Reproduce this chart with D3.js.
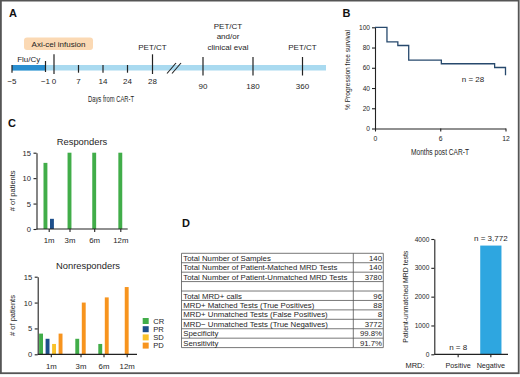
<!DOCTYPE html>
<html>
<head>
<style>
  body { margin: 0; background: #fff; }
  svg { display: block; font-family: "Liberation Sans", Arial, Helvetica, sans-serif; }
  .axis path, .axis line { stroke: #222; stroke-width: 1.1; }
  .axis text { fill: #1e1e1e; }
  .panel-label { font-weight: bold; font-size: 11px; fill: #111; }
</style>
</head>
<body>
<script src="https://d3js.org/d3.v7.min.js"></script>
<script>
// ---- A: timeline
const dayTicks = ['-5', '-1', '0', '7', '14', '24', '28', '90', '180', '360'];
const dayTickLabels = ['\u22125', '\u22121', '0', '7', '14', '24', '28', '90', '180', '360'];
const lateDays = ['90', '180', '360'];
const eventDays = ['28', '90', '360'];
const eventLabels = [['PET/CT'], ['PET/CT', 'and/or', 'clinical eval'], ['PET/CT']];

// ---- B: PFS
const kmMonths = [0, 1.1, 2.1, 3.1, 6.1, 11, 12];
const kmPFS = [100, 85.5, 82, 67.5, 64, 60.3, 52.5];
const pfsTicks = [0, 20, 40, 60, 80, 100];
const monthTicks = [0, 6, 12];

// ---- C: response by time point
const timepoints = ['1m', '3m', '6m', '12m'];
const responseTypes = ['CR', 'PR', 'SD', 'PD'];
const responseColors = ['#41ad49', '#1d4f8b', '#f9c22b', '#f7941e'];
const respCR = [13, 15, 15, 15];
const respPR = [2, 0, 0, 0];
const respSD = [0, 0, 0, 0];
const respPD = [0, 0, 0, 0];
const nonrCR = [4, 3, 2, 0];
const nonrPR = [3, 0, 0, 0];
const nonrSD = [2, 0, 0, 0];
const nonrPD = [4, 10, 11, 13];
const patientTicks = [0, 5, 10, 15];

// ---- D: table + unmatched tests
const tableLabels = [
  'Total Number of Samples',
  'Total Number of Patient-Matched MRD Tests',
  'Total Number of Patient-Unmatched MRD Tests',
  '',
  'Total MRD+ calls',
  'MRD+ Matched Tests (True Positives)',
  'MRD+ Unmatched Tests (False Positives)',
  'MRD\u2212 Unmatched Tests (True Negatives)',
  'Specificity',
  'Sensitivity'
];
const tableValues = ['140', '140', '3780', '', '96', '88', '8', '3772', '99.8%', '91.7%'];
const mrdGroups = ['Positive', 'Negative'];
const mrdCounts = [8, 3772];
const mrdNotes = ['n = 8', 'n = 3,772'];
const mrdTicks = [0, 1000, 2000, 3000, 4000];

const svg = d3.select('body').append('svg')
  .attr('width', 520)
  .attr('height', 377);

svg.append('rect').attr('width', 520).attr('height', 377).attr('fill', '#fff');
svg.append('rect')
  .attr('x', 0.9).attr('y', 0.6)
  .attr('width', 517.8).attr('height', 372.6)
  .attr('fill', 'none')
  .attr('stroke', '#555')
  .attr('stroke-width', 1.8);

// condensed titles: squeeze regular glyphs to the measured width
function narrowText(sel, width) {
  sel.attr('textLength', width).attr('lengthAdjust', 'spacingAndGlyphs');
}

// ================= A =================
const gA = svg.append('g');
gA.append('text').attr('class', 'panel-label').attr('x', 9).attr('y', 17).text('A');

const dayX = d3.scaleOrdinal()
  .domain(dayTicks)
  .range([12, 45.5, 54, 78.5, 103, 127.5, 152.5, 203, 253, 302.5]);

gA.append('rect')
  .attr('x', dayX('-5')).attr('y', 65)
  .attr('width', 326 - dayX('-5')).attr('height', 5.5)
  .attr('fill', '#a9daf0');
gA.append('rect')
  .attr('x', dayX('-5')).attr('y', 65)
  .attr('width', dayX('-1') - dayX('-5')).attr('height', 5.5)
  .attr('fill', '#2a8fd0');

// break marks
[0, 5].forEach(dx => {
  gA.append('line')
    .attr('x1', 167 + dx).attr('y1', 73.5)
    .attr('x2', 176 + dx).attr('y2', 63)
    .attr('stroke', '#222').attr('stroke-width', 1.1);
});

function tickSpan(d) {
  if (d === '0' || d === '28') return [54.3, 74];
  if (lateDays.includes(d)) return [57, 75.5];
  if (d === '-1') return [61, 72];
  return [65, 72.7];
}

gA.selectAll('.day-tick')
  .data(dayTicks)
  .join('line')
  .attr('class', 'day-tick')
  .attr('x1', d => dayX(d)).attr('x2', d => dayX(d))
  .attr('y1', d => tickSpan(d)[0]).attr('y2', d => tickSpan(d)[1])
  .attr('stroke', '#222').attr('stroke-width', 1.2);

gA.selectAll('.day-label')
  .data(dayTicks)
  .join('text')
  .attr('class', 'day-label')
  .attr('x', d => dayX(d))
  .attr('y', d => lateDays.includes(d) ? 89 : 84)
  .attr('text-anchor', 'middle')
  .attr('font-size', 8)
  .attr('fill', '#1e1e1e')
  .text((d, i) => dayTickLabels[i]);

gA.append('text')
  .attr('x', 111).attr('y', 102)
  .attr('text-anchor', 'middle')
  .attr('font-size', 8.5)
  .attr('fill', '#1e1e1e')
  .text('Days from CAR-T')
  .call(narrowText, 46);

gA.append('text')
  .attr('x', (dayX('-5') + dayX('-1')) / 2).attr('y', 61.5)
  .attr('text-anchor', 'middle')
  .attr('font-size', 8)
  .attr('fill', '#1e1e1e')
  .text('Flu/Cy');

gA.append('rect')
  .attr('x', 24).attr('y', 37.5)
  .attr('width', 69).attr('height', 12.5)
  .attr('rx', 3)
  .attr('fill', '#fbd9b4');
gA.append('text')
  .attr('x', 58.5).attr('y', 47)
  .attr('text-anchor', 'middle')
  .attr('font-size', 8)
  .attr('fill', '#1e1e1e')
  .text('Axi-cel infusion');

eventDays.forEach((d, i) => {
  const lines = eventLabels[i];
  gA.append('text')
    .attr('text-anchor', 'middle')
    .attr('font-size', 8)
    .attr('fill', '#1e1e1e')
    .selectAll('tspan')
    .data(lines)
    .join('tspan')
    .attr('x', dayX(d) + (lines.length > 1 ? 25 : 0))
    .attr('y', (t, j) => 49.7 - (lines.length - 1 - j) * 10.5)
    .text(t => t);
});

// ================= B =================
const gB = svg.append('g');
gB.append('text').attr('class', 'panel-label').attr('x', 342.5).attr('y', 17).text('B');

const xB = d3.scaleLinear().domain([0, 12]).range([375, 505.5]);
const yB = d3.scaleLinear().domain([0, 100]).range([128.5, 27.3]);

gB.append('g')
  .attr('class', 'axis')
  .attr('transform', `translate(0,${yB(0)})`)
  .call(d3.axisBottom(xB).tickValues(monthTicks).tickSize(3).tickSizeOuter(0).tickPadding(4.5))
  .call(g => g.selectAll('text').attr('font-size', 6.8));

gB.append('g')
  .attr('class', 'axis')
  .attr('transform', `translate(${xB(0)},0)`)
  .call(d3.axisLeft(yB).tickValues(pfsTicks).tickSize(3).tickSizeOuter(0).tickPadding(2))
  .call(g => g.selectAll('text').attr('font-size', 6.6));

const kmLine = d3.line()
  .x((d, i) => xB(kmMonths[i]))
  .y(d => yB(d))
  .curve(d3.curveStepAfter);

gB.append('path')
  .attr('d', kmLine(kmPFS))
  .attr('fill', 'none')
  .attr('stroke', '#27496d')
  .attr('stroke-width', 1.3);

gB.append('text')
  .attr('x', 473).attr('y', 81.8)
  .attr('text-anchor', 'middle')
  .attr('font-size', 8)
  .attr('fill', '#1e1e1e')
  .text('n = 28');

gB.append('text')
  .attr('x', 440).attr('y', 155)
  .attr('text-anchor', 'middle')
  .attr('font-size', 8.5)
  .attr('fill', '#1e1e1e')
  .text('Months post CAR-T')
  .call(narrowText, 58);

gB.append('text')
  .attr('transform', 'translate(349.5,70) rotate(-90)')
  .attr('text-anchor', 'middle')
  .attr('font-size', 7.5)
  .attr('fill', '#1e1e1e')
  .text('% Progression free survival')
  .call(narrowText, 80);

// ================= C =================
const gC = svg.append('g');
gC.append('text').attr('class', 'panel-label').attr('x', 8).attr('y', 127).text('C');

const colorC = d3.scaleOrdinal().domain(responseTypes).range(responseColors);

function drawResponse(opts) {
  const { title, series, centers, y0, y1, xLeft, xRight, titleX, titleY, labelPad } = opts;
  const g = gC.append('g');
  const x = d3.scaleOrdinal().domain(timepoints).range(centers);
  const y = d3.scaleLinear().domain([0, 15]).range([y0, y1]);
  const slot = 6.5;
  const barW = 3.9;

  const bars = [];
  timepoints.forEach((t, i) => {
    const present = responseTypes.filter((r, k) => series[k][i] > 0);
    present.forEach((r, j) => {
      const k = responseTypes.indexOf(r);
      bars.push({ t, r, v: series[k][i], off: (j - (present.length - 1) / 2) * slot });
    });
  });

  g.selectAll('rect')
    .data(bars)
    .join('rect')
    .attr('x', d => x(d.t) + d.off - barW / 2)
    .attr('y', d => y(d.v))
    .attr('width', barW)
    .attr('height', d => y(0) - y(d.v))
    .attr('fill', d => colorC(d.r));

  g.append('g')
    .attr('class', 'axis')
    .attr('transform', `translate(${xLeft},0)`)
    .call(d3.axisLeft(y).tickValues(patientTicks).tickSize(3).tickSizeOuter(0).tickPadding(2.5))
    .call(a => a.selectAll('text').attr('font-size', 7.6));

  g.append('g')
    .attr('class', 'axis')
    .attr('transform', `translate(0,${y0})`)
    .call(d3.axisBottom(x).tickSize(3).tickSizeOuter(0).tickPadding(labelPad))
    .call(a => a.select('.domain').remove())
    .call(a => a.selectAll('text').attr('font-size', 7.8));

  g.append('line')
    .attr('x1', xLeft).attr('x2', xRight)
    .attr('y1', y0).attr('y2', y0)
    .attr('stroke', '#222').attr('stroke-width', 1.2);

  g.append('text')
    .attr('x', titleX).attr('y', titleY)
    .attr('text-anchor', 'middle')
    .attr('font-size', 9.4)
    .attr('fill', '#1e1e1e')
    .text(title);

  g.append('text')
    .attr('transform', `translate(15,${(y0 + y1) / 2}) rotate(-90)`)
    .attr('text-anchor', 'middle')
    .attr('font-size', 7.5)
    .attr('fill', '#1e1e1e')
    .text('# of patients');
}

drawResponse({
  title: 'Responders',
  series: [respCR, respPR, respSD, respPD],
  centers: [48.7, 69.5, 94.2, 120.3],
  y0: 229, y1: 152.7, xLeft: 36.5, xRight: 127.7,
  titleX: 82, titleY: 145, labelPad: 5
});

drawResponse({
  title: 'Nonresponders',
  series: [nonrCR, nonrPR, nonrSD, nonrPD],
  centers: [50.8, 80.5, 103.5, 126.7],
  y0: 354.3, y1: 276.7, xLeft: 37.7, xRight: 137,
  titleX: 88, titleY: 269.3, labelPad: 6
});

const legend = gC.append('g').attr('transform', 'translate(142.7,321)');
legend.selectAll('rect')
  .data(responseTypes)
  .join('rect')
  .attr('x', 0)
  .attr('y', (d, i) => i * 8.2 - 3)
  .attr('width', 6).attr('height', 6)
  .attr('fill', d => colorC(d));
legend.selectAll('text')
  .data(responseTypes)
  .join('text')
  .attr('x', 10.5)
  .attr('y', (d, i) => i * 8.2 + 2.8)
  .attr('font-size', 7.6)
  .attr('fill', '#1e1e1e')
  .text(d => d);

// ================= D =================
const gD = svg.append('g');
gD.append('text').attr('class', 'panel-label').attr('x', 182).attr('y', 227).text('D');

const rowY = d3.scaleBand().domain(d3.range(tableLabels.length)).range([253.3, 347.6]);
const tLeft = 181.5, tDiv = 353.3, tRight = 383.3;

gD.selectAll('.row-line')
  .data(d3.range(tableLabels.length + 1))
  .join('line')
  .attr('class', 'row-line')
  .attr('x1', tLeft).attr('x2', tRight)
  .attr('y1', i => i < tableLabels.length ? rowY(i) : rowY(i - 1) + rowY.bandwidth())
  .attr('y2', i => i < tableLabels.length ? rowY(i) : rowY(i - 1) + rowY.bandwidth())
  .attr('stroke', '#555').attr('stroke-width', 0.8);

[tLeft, tDiv, tRight].forEach(xv => {
  gD.append('line')
    .attr('x1', xv).attr('x2', xv)
    .attr('y1', rowY(0)).attr('y2', rowY(tableLabels.length - 1) + rowY.bandwidth())
    .attr('stroke', '#555').attr('stroke-width', 0.8);
});

gD.selectAll('.row-label')
  .data(tableLabels)
  .join('text')
  .attr('class', 'row-label')
  .attr('x', tLeft + 1.8)
  .attr('y', (d, i) => rowY(i) + rowY.bandwidth() / 2 + 2.8)
  .attr('font-size', 7.8)
  .attr('fill', '#1e1e1e')
  .text(d => d);

gD.selectAll('.row-value')
  .data(tableValues)
  .join('text')
  .attr('class', 'row-value')
  .attr('x', tRight - 1.3)
  .attr('y', (d, i) => rowY(i) + rowY.bandwidth() / 2 + 2.8)
  .attr('text-anchor', 'end')
  .attr('font-size', 7.8)
  .attr('fill', '#1e1e1e')
  .text(d => d);

const xD = d3.scaleBand().domain(mrdGroups).range([441, 508]).paddingInner(0.35).paddingOuter(0.2);
const yD = d3.scaleLinear().domain([0, 4000]).range([354.3, 239]);

gD.selectAll('.mrd-bar')
  .data(mrdGroups)
  .join('rect')
  .attr('class', 'mrd-bar')
  .attr('x', d => xD(d))
  .attr('y', (d, i) => yD(mrdCounts[i]))
  .attr('width', xD.bandwidth())
  .attr('height', (d, i) => yD(0) - yD(mrdCounts[i]))
  .attr('fill', '#2ea6e0');

gD.append('g')
  .attr('class', 'axis')
  .attr('transform', `translate(434.3,0)`)
  .call(d3.axisLeft(yD).tickValues(mrdTicks).tickFormat(d3.format('d')).tickSize(3).tickSizeOuter(0).tickPadding(2))
  .call(a => a.selectAll('text').attr('font-size', 6.6));

gD.append('g')
  .attr('class', 'axis')
  .attr('transform', `translate(0,${yD(0)})`)
  .call(d3.axisBottom(xD).tickSize(3).tickSizeOuter(0).tickPadding(5.3))
  .call(a => a.select('.domain').remove())
  .call(a => a.selectAll('text').attr('font-size', 7.2));

gD.append('line')
  .attr('x1', 434.3).attr('x2', 508)
  .attr('y1', yD(0)).attr('y2', yD(0))
  .attr('stroke', '#222').attr('stroke-width', 1.2);

gD.selectAll('.mrd-note')
  .data(mrdGroups)
  .join('text')
  .attr('class', 'mrd-note')
  .attr('x', d => xD(d) + xD.bandwidth() / 2)
  .attr('y', (d, i) => yD(mrdCounts[i]) - 4.5)
  .attr('text-anchor', 'middle')
  .attr('font-size', 8)
  .attr('fill', '#1e1e1e')
  .text((d, i) => mrdNotes[i]);

gD.append('text')
  .attr('x', 415).attr('y', 368.3)
  .attr('text-anchor', 'middle')
  .attr('font-size', 7.5)
  .attr('fill', '#1e1e1e')
  .text('MRD:');

gD.append('text')
  .attr('transform', 'translate(407.5,296.7) rotate(-90)')
  .attr('text-anchor', 'middle')
  .attr('font-size', 7)
  .attr('fill', '#1e1e1e')
  .text('Patient-unmatched MRD tests')
  .call(narrowText, 92);
</script>
</body>
</html>
